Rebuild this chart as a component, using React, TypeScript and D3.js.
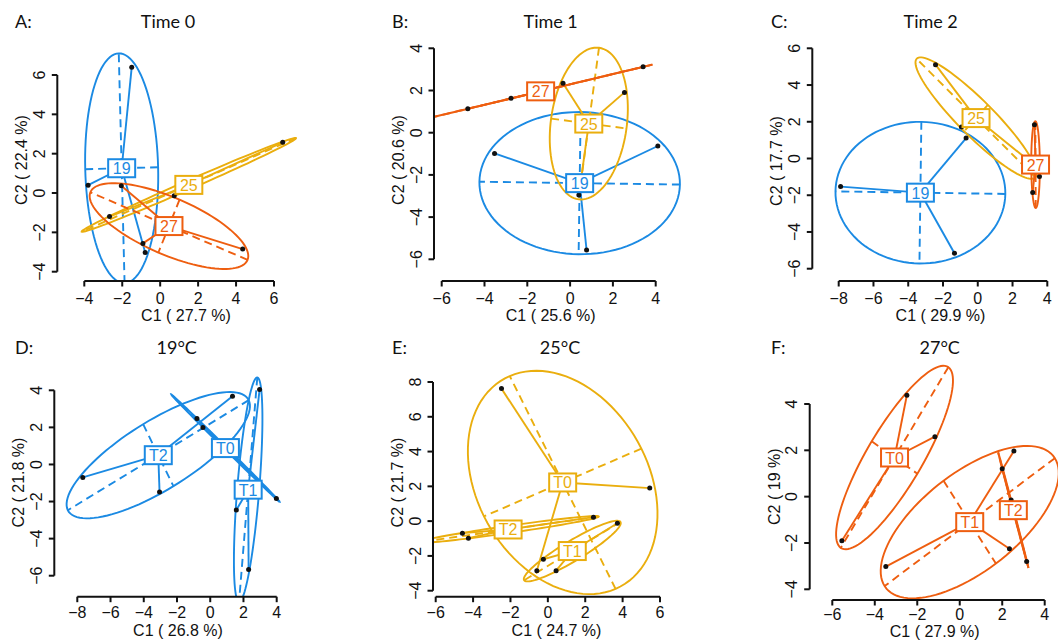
import React from "react";
import * as d3 from "d3";

const BLUE = "#1b8ae3";
const ORANGE = "#ee5e10";
const YELLOW = "#eaae0e";

// A: Time 0 (groups = temperature)
const timeA19 = [[-1.5, 6.4], [-3.8, 0.4], [-0.79, -3.02]];
const timeA25 = [[6.46, 2.58], [-2.67, -1.2], [0.74, -0.14]];
const timeA27 = [[-2.05, 0.37], [4.35, -2.85], [-0.91, -2.56]];
// B: Time 1
const timeB19 = [[-3.53, -0.98], [4.1, -0.63], [0.77, -5.56]];
const timeB25 = [[-0.33, 2.34], [2.54, 1.91], [0.41, -2.95]];
const timeB27 = [[-4.78, 1.13], [-2.76, 1.63], [3.41, 3.12]];
// C: Time 2
const timeC19 = [[-7.89, -1.53], [-0.67, 1.11], [-1.34, -5.16]];
const timeC25 = [[-2.43, 5.11], [-0.94, 1.71], [3.07, -0.22]];
const timeC27 = [[3.26, 1.84], [3.16, -1.85], [3.55, -0.98]];
// D: 19°C (groups = time)
const tempD_T0 = [[-0.8, 2.48], [-0.44, 2.0], [3.98, -1.83]];
const tempD_T1 = [[2.97, 4.04], [1.57, -2.46], [2.31, -5.66]];
const tempD_T2 = [[-7.67, -0.7], [-3.05, -1.48], [1.34, 3.68]];
// E: 25°C
const tempE_T0 = [[-2.48, 7.62], [5.45, 1.9], [-0.59, -2.85]];
const tempE_T1 = [[-0.24, -2.19], [0.44, -2.85], [3.72, -0.12]];
const tempE_T2 = [[-4.57, -0.69], [-4.25, -0.98], [2.44, 0.23]];
// F: 27°C
const tempF_T0 = [[-2.49, 4.38], [-1.17, 2.59], [-5.55, -1.9]];
const tempF_T1 = [[-3.48, -3.02], [2.34, -2.25], [2.55, 1.97]];
const tempF_T2 = [[2.0, 1.2], [2.42, -0.15], [3.15, -2.8]];

const panels = [
  {
    letter: "A:", title: "Time 0", xlab: "C1 ( 27.7 %)", ylab: "C2 ( 22.4 %)",
    groups: [
      { name: "19", col: BLUE, pts: timeA19 },
      { name: "25", col: YELLOW, pts: timeA25 },
      { name: "27", col: ORANGE, pts: timeA27 },
    ],
    xDom: [-4, 6], xRange: [84.3, 274], yDom: [-4, 6], yRange: [271.7, 75],
    axisY: 281, axisX: 57.3, letterX: 15, titleX: 168, titleY: 27.5, xlabX: 186, ylabY: 160,
    tickOff: 23, xlabY: 320.5,
    clip: [57.3, 30, 354, 281],
  },
  {
    letter: "B:", title: "Time 1", xlab: "C1 ( 25.6 %)", ylab: "C2 ( 20.6 %)",
    groups: [
      { name: "19", col: BLUE, pts: timeB19 },
      { name: "25", col: YELLOW, pts: timeB25 },
      { name: "27", col: ORANGE, pts: timeB27 },
    ],
    xDom: [-6, 4], xRange: [441.7, 655.7], yDom: [-6, 4], yRange: [259.3, 48.3],
    axisY: 281, axisX: 434, letterX: 392, titleX: 550.7, titleY: 27.5, xlabX: 550.7, ylabY: 160,
    tickOff: 23, xlabY: 320.5,
    clip: [434, 30, 708, 281],
  },
  {
    letter: "C:", title: "Time 2", xlab: "C1 ( 29.9 %)", ylab: "C2 ( 17.7 %)",
    groups: [
      { name: "19", col: BLUE, pts: timeC19 },
      { name: "25", col: YELLOW, pts: timeC25 },
      { name: "27", col: ORANGE, pts: timeC27 },
    ],
    xDom: [-8, 4], xRange: [838.7, 1047.3], yDom: [-6, 6], yRange: [268.7, 48.3],
    axisY: 281, axisX: 812.3, letterX: 771, titleX: 930.7, titleY: 27.5, xlabX: 940.5, ylabY: 161,
    tickOff: 23, xlabY: 320.5,
    clip: [812.3, 30, 1063, 281],
  },
  {
    letter: "D:", title: "19°C", xlab: "C1 ( 26.8 %)", ylab: "C2 ( 21.8 %)",
    groups: [
      { name: "T0", col: BLUE, pts: tempD_T0 },
      { name: "T1", col: BLUE, pts: tempD_T1 },
      { name: "T2", col: BLUE, pts: tempD_T2 },
    ],
    xDom: [-8, 4], xRange: [77.3, 276.7], yDom: [-6, 4], yRange: [575.7, 390.3],
    axisY: 596.7, axisX: 54.3, letterX: 15, titleX: 176.7, titleY: 353.5, xlabX: 178, ylabY: 482.5,
    tickOff: 21.5, xlabY: 635.5,
    clip: [54.3, 356, 354, 596.7],
  },
  {
    letter: "E:", title: "25°C", xlab: "C1 ( 24.7 %)", ylab: "C2 ( 21.7 %)",
    groups: [
      { name: "T0", col: YELLOW, pts: tempE_T0 },
      { name: "T1", col: YELLOW, pts: tempE_T1 },
      { name: "T2", col: YELLOW, pts: tempE_T2 },
    ],
    xDom: [-6, 6], xRange: [435.7, 660], yDom: [-4, 8], yRange: [590.7, 382],
    axisY: 596.7, axisX: 433, letterX: 392, titleX: 560, titleY: 353.5, xlabX: 556.5, ylabY: 482.5,
    tickOff: 21.5, xlabY: 635.5,
    clip: [433, 356, 708, 596.7],
  },
  {
    letter: "F:", title: "27°C", xlab: "C1 ( 27.9 %)", ylab: "C2 ( 19 %)",
    groups: [
      { name: "T0", col: ORANGE, pts: tempF_T0 },
      { name: "T1", col: ORANGE, pts: tempF_T1 },
      { name: "T2", col: ORANGE, pts: tempF_T2 },
    ],
    xDom: [-6, 4], xRange: [832.3, 1044.7], yDom: [-4, 4], yRange: [589.3, 404],
    axisY: 600, axisX: 809.7, letterX: 771, titleX: 939.7, titleY: 353.5, xlabX: 934.7, ylabY: 486.7,
    tickOff: 20, xlabY: 636.5,
    clip: [809.7, 356, 1058, 600],
  },
];

// covariance ellipse as drawn by ade4 s.class (cellipse = 1.5, weights 1/n)
function classEllipse(pts: number[][], coeff = 1.5) {
  const n = pts.length;
  const mx = d3.mean(pts, (p) => p[0])!;
  const my = d3.mean(pts, (p) => p[1])!;
  const vx = d3.sum(pts, (p) => (p[0] - mx) ** 2) / n;
  const vy = d3.sum(pts, (p) => (p[1] - my) ** 2) / n;
  const cxy = d3.sum(pts, (p) => (p[0] - mx) * (p[1] - my)) / n;
  const delta = Math.sqrt((vx - vy) ** 2 + 4 * cxy * cxy);
  let l1 = (vx + vy + delta) / 2;
  let l2 = vx + vy - l1;
  l1 = Math.sqrt(Math.max(l1, 0));
  l2 = Math.sqrt(Math.max(l2, 0));
  let a0 = 1, b0 = 0;
  if (Math.abs(cxy) < 1e-10) {
    if (vx > vy) { a0 = 1; b0 = 0; } else { a0 = 0; b0 = 1; }
  } else {
    b0 = (l1 * l1 - vx) / cxy;
    const nn = Math.hypot(a0, b0);
    a0 /= nn; b0 /= nn;
  }
  const c11 = coeff * a0 * l1, c12 = -coeff * b0 * l2;
  const c21 = coeff * b0 * l1, c22 = coeff * a0 * l2;
  const ring = d3.range(100).map((i) => {
    const t = (2 * Math.PI * i) / 100;
    return [mx + c11 * Math.cos(t) + c12 * Math.sin(t), my + c21 * Math.cos(t) + c22 * Math.sin(t)];
  });
  return {
    mx, my, ring,
    seg1: [[mx + c11, my + c21], [mx - c11, my - c21]],
    seg2: [[mx + c12, my + c22], [mx - c12, my - c22]],
  };
}

const TITLE_FONT = "Lato, 'Open Sans', sans-serif";
const AXIS_FONT = "'Liberation Sans', Arial, sans-serif";
const fmt = (v: number) => (v < 0 ? "\u2212" + Math.abs(v) : String(v));

function Panel({ p, idx }: { p: any; idx: number }) {
  const x = d3.scaleLinear().domain(p.xDom).range(p.xRange);
  const y = d3.scaleLinear().domain(p.yDom).range(p.yRange);
  const line = d3.line<number[]>().x((d) => x(d[0])).y((d) => y(d[1]));
  const ringPath = d3.line<number[]>().x((d) => x(d[0])).y((d) => y(d[1])).curve(d3.curveLinearClosed);
  const xTicks = d3.range(p.xDom[0], p.xDom[1] + 1, 2);
  const yTicks = d3.range(p.yDom[0], p.yDom[1] + 1, 2);
  const ells = p.groups.map((g: any) => ({ g, e: classEllipse(g.pts) }));
  const clipId = `clip-${idx}`;
  const [cx0, cy0, cx1, cy1] = p.clip;
  return (
    <g>
      <defs>
        <clipPath id={clipId}>
          <rect x={cx0} y={cy0} width={cx1 - cx0} height={cy1 - cy0} />
        </clipPath>
      </defs>
      <text x={p.letterX} y={p.titleY} fontFamily={TITLE_FONT} fontSize={18} fill="#111">{p.letter}</text>
      <text x={p.titleX} y={p.titleY} fontFamily={TITLE_FONT} fontSize={18} fill="#111" textAnchor="middle">{p.title}</text>

      <g clipPath={`url(#${clipId})`} fill="none" strokeWidth={1.9}>
        {ells.map(({ g, e }: any) => (
          <g key={g.name} stroke={g.col}>
            <path d={ringPath(e.ring)!} />
            <path d={line(e.seg1)!} strokeDasharray="8,5" />
            <path d={line(e.seg2)!} strokeDasharray="8,5" />
            {g.pts.map((pt: number[], i: number) => (
              <path key={i} d={line([[e.mx, e.my], pt])!} />
            ))}
          </g>
        ))}
        {ells.map(({ g }: any) =>
          g.pts.map((pt: number[], i: number) => (
            <circle key={g.name + i} cx={x(pt[0])} cy={y(pt[1])} r={2.5} fill="#111" stroke="none" />
          ))
        )}
        {ells.map(({ g, e }: any) => {
          const w = g.name.length * 9 + 9;
          const h = 18;
          return (
            <g key={"lab" + g.name}>
              <rect x={x(e.mx) - w / 2} y={y(e.my) - h / 2} width={w} height={h} fill="#fff" stroke={g.col} strokeWidth={2} />
              <text x={x(e.mx)} y={y(e.my) + 6} textAnchor="middle" fontFamily={AXIS_FONT} fontSize={16} fill={g.col} stroke="none">{g.name}</text>
            </g>
          );
        })}
      </g>

      <g stroke="#111" strokeWidth={2} fill="none">
        <line x1={x(xTicks[0])} x2={x(xTicks[xTicks.length - 1])} y1={p.axisY} y2={p.axisY} />
        {xTicks.map((t: number) => (
          <line key={t} x1={x(t)} x2={x(t)} y1={p.axisY} y2={p.axisY + 5.5} />
        ))}
        <line y1={y(yTicks[0])} y2={y(yTicks[yTicks.length - 1])} x1={p.axisX} x2={p.axisX} />
        {yTicks.map((t: number) => (
          <line key={t} y1={y(t)} y2={y(t)} x1={p.axisX} x2={p.axisX - 5.5} />
        ))}
      </g>
      <g fontFamily={AXIS_FONT} fontSize={16} fill="#111">
        {xTicks.map((t: number) => (
          <text key={t} x={x(t)} y={p.axisY + p.tickOff} textAnchor="middle">{fmt(t)}</text>
        ))}
        {yTicks.map((t: number) => (
          <text key={t} transform={`translate(${p.axisX - 12.5},${y(t)}) rotate(-90)`} textAnchor="middle">{fmt(t)}</text>
        ))}
        <text x={p.xlabX} y={p.xlabY} textAnchor="middle">{p.xlab}</text>
        <text transform={`translate(${p.axisX - 30},${p.ylabY}) rotate(-90)`} textAnchor="middle">{p.ylab}</text>
      </g>
    </g>
  );
}

export default function App() {
  return (
    <svg width={1063} height={640} style={{ position: "absolute", left: 0, top: 0, background: "#fff" }}>
      <rect width={1063} height={640} fill="#fff" />
      {panels.map((p, i) => (
        <Panel key={i} p={p} idx={i} />
      ))}
    </svg>
  );
}
